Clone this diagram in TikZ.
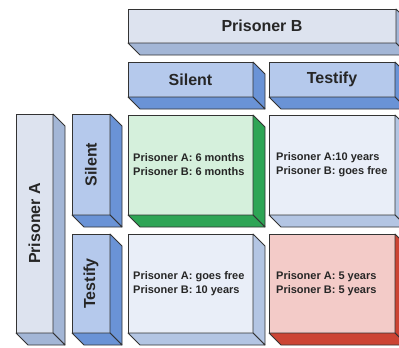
\documentclass[tikz,border=0pt]{standalone}
\usepackage{fontspec}
\setmainfont{Liberation Sans}
\usetikzlibrary{calc}
\definecolor{ol}{HTML}{333333}
\definecolor{txt}{HTML}{262626}
\definecolor{grayface}{HTML}{DDE3EF}
\definecolor{grayside}{HTML}{A3B6D6}
\definecolor{hdrface}{HTML}{B5C9EC}
\definecolor{hdrside}{HTML}{6A93D6}
\definecolor{cellface}{HTML}{E9EEF8}
\definecolor{cellside}{HTML}{B3C5E3}
\definecolor{grnface}{HTML}{D5F0DC}
\definecolor{grnside}{HTML}{2EA555}
\definecolor{redface}{HTML}{F3CBC8}
\definecolor{redside}{HTML}{CC4434}
\tikzset{
  face/.style={draw=ol, line width=0.8pt, inner sep=0pt, outer sep=0pt, anchor=north west, text=txt, font=\fontsize{16}{19}\selectfont\bfseries},
  celltext/.style={anchor=west, align=left, inner sep=0pt, text=txt, font=\fontsize{11}{14}\selectfont\bfseries},
  sidetext/.style={rotate=90, inner sep=0pt, text=txt, font=\fontsize{16}{19}\selectfont\bfseries},
  sideface/.style={draw=ol, line width=0.8pt, line join=round}
}
\newcommand\blocksides[2]{%
  \filldraw[sideface, fill=#2] (#1.north east) -- ++(12,12) -- ($(#1.south east)+(12,12)$) -- (#1.south east) -- cycle;
  \filldraw[sideface, fill=#2] (#1.south west) -- (#1.south east) -- ($(#1.south east)+(12,12)$) -- ($(#1.south west)+(12,12)$) -- cycle;
}
\begin{document}
\begin{tikzpicture}[x=1pt,y=-1pt]
\useasboundingbox (0,0) rectangle (399,348);
\fill[white] (0,0) rectangle (399,348);
\clip (0,0) rectangle (399,348);
% Prisoner B header
\node[face, fill=grayface, minimum width=268pt, minimum height=34pt] (pb) at (128,9) {Prisoner B};
\blocksides{pb}{grayside}
\node[face, fill=hdrface, minimum width=125pt, minimum height=35pt] (bs) at (128,62) {Silent};
\blocksides{bs}{hdrside}
\node[face, fill=hdrface, minimum width=126pt, minimum height=35pt] (bt) at (269,62) {Testify};
\blocksides{bt}{hdrside}
% Prisoner A header
\node[face, fill=grayface, minimum width=37pt, minimum height=219pt] (pa) at (16,114) {};
\blocksides{pa}{grayside}
\node[sidetext] (pal) at (pa.center) {Prisoner A};
\node[face, fill=hdrface, minimum width=38pt, minimum height=101pt] (as) at (72,114) {};
\blocksides{as}{hdrside}
\node[sidetext] (asl) at (as.center) {Silent};
\node[face, fill=hdrface, minimum width=38pt, minimum height=99pt] (at) at (72,234) {};
\blocksides{at}{hdrside}
\node[sidetext] (atl) at (at.center) {Testify};
% cells
\node[face, fill=grnface, minimum width=125pt, minimum height=100pt] (c11) at (128,115) {};
\blocksides{c11}{grnside}
\node[celltext] (t11) at ($(c11.west)+(5,0)$) {Prisoner A: 6 months\\Prisoner B: 6 months};
\node[face, fill=cellface, minimum width=126pt, minimum height=100pt] (c12) at (269,115) {};
\blocksides{c12}{cellside}
\node[celltext] (t12) at ($(c12.west)+(7,0)$) {Prisoner A:10 years\\Prisoner B: goes free};
\node[face, fill=cellface, minimum width=125pt, minimum height=99pt] (c21) at (128,234) {};
\blocksides{c21}{cellside}
\node[celltext] (t21) at ($(c21.west)+(5,0)$) {Prisoner A: goes free\\Prisoner B: 10 years};
\node[face, fill=redface, minimum width=126pt, minimum height=99pt] (c22) at (269,234) {};
\blocksides{c22}{redside}
\node[celltext] (t22) at ($(c22.west)+(7,0)$) {Prisoner A: 5 years\\Prisoner B: 5 years};
\end{tikzpicture}
\end{document}
